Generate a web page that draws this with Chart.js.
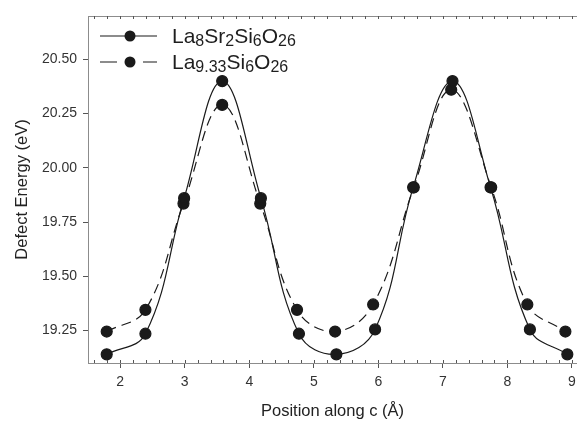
<!DOCTYPE html>
<html>
<head>
<meta charset="utf-8">
<title>Defect Energy</title>
<script src="https://cdn.jsdelivr.net/npm/chart.js@4/dist/chart.umd.min.js"></script>
<style>
  html, body { margin: 0; padding: 0; background: #fff; overflow: hidden; }
  canvas { display: block; }
</style>
</head>
<body>
<canvas id="chart" width="577" height="421"></canvas>
<script>
// ============================
// DATOS
// ============================

// La8Sr2Si6O26 (línea continua)
const xSr = [1.79, 2.39, 2.99, 3.58, 4.18, 4.77, 5.35, 5.95, 6.54, 7.15, 7.74, 8.35, 8.93];
const eSr = [19.14, 19.235, 19.86, 20.40, 19.86, 19.235, 19.14, 19.255, 19.91, 20.40, 19.91, 19.255, 19.14];

// La9.33Si6O26 (línea discontinua)
const xLa = [1.79, 2.39, 2.98, 3.58, 4.17, 4.74, 5.33, 5.92, 6.55, 7.13, 7.75, 8.31, 8.90];
const eLa = [19.245, 19.345, 19.835, 20.29, 19.835, 19.345, 19.245, 19.37, 19.91, 20.36, 19.91, 19.37, 19.245];

// etiquetas de ejes
const xTicks = [2, 3, 4, 5, 6, 7, 8, 9];
const yTicks = [19.25, 19.50, 19.75, 20.00, 20.25, 20.50];

// partes de la leyenda: normal, subíndice, normal, subíndice...
const legendSr = ['La', '8', 'Sr', '2', 'Si', '6', 'O', '26'];
const legendLa = ['La', '9.33', 'Si', '6', 'O', '26'];

const FONT = '"Liberation Sans", Arial, sans-serif';
const INK = '#1a1a1a';
const FRAME = '#8c8c8c';

const toPoints = (xs, ys) => xs.map((x, i) => ({ x: x, y: ys[i] }));

// ============================
// PLUGINS
// ============================

// marco superior + ticks menores
const framePlugin = {
    id: 'frame',
    afterDraw(chart) {
        const { ctx, chartArea, scales } = chart;
        const xs = scales.x;
        ctx.save();
        ctx.strokeStyle = FRAME;
        ctx.lineWidth = 1;

        // borde superior
        ctx.beginPath();
        ctx.moveTo(chartArea.left, chartArea.top + 0.5);
        ctx.lineTo(chartArea.right, chartArea.top + 0.5);
        ctx.stroke();

        // ticks menores cada 0.2
        ctx.strokeStyle = '#555';
        for (let v = 1.6; v <= xs.max + 1e-9; v += 0.2) {
            const px = Math.round(xs.getPixelForValue(v)) + 0.5;
            ctx.beginPath();
            ctx.moveTo(px, chartArea.bottom);
            ctx.lineTo(px, chartArea.bottom - 3);
            ctx.moveTo(px, chartArea.top);
            ctx.lineTo(px, chartArea.top + 3);
            ctx.stroke();
        }
        ctx.restore();
    }
};

// leyenda con subíndices
function drawFormula(ctx, parts, x, y) {
    let cx = x;
    parts.forEach((p, i) => {
        const sub = i % 2 === 1;
        ctx.font = (sub ? '16px ' : '21px ') + FONT;
        ctx.fillText(p, cx, sub ? y + 3 : y);
        cx += ctx.measureText(p).width;
    });
}

const legendPlugin = {
    id: 'formulaLegend',
    afterDraw(chart) {
        const { ctx } = chart;
        const rows = [
            { parts: legendSr, y: 36, dashed: false },
            { parts: legendLa, y: 62, dashed: true }
        ];
        ctx.save();
        rows.forEach(r => {
            ctx.strokeStyle = INK;
            ctx.lineWidth = 1.2;
            ctx.beginPath();
            if (r.dashed) {
                ctx.moveTo(100, r.y); ctx.lineTo(117, r.y);
                ctx.moveTo(143, r.y); ctx.lineTo(157, r.y);
            } else {
                ctx.moveTo(100, r.y); ctx.lineTo(157, r.y);
            }
            ctx.stroke();

            ctx.fillStyle = INK;
            ctx.beginPath();
            ctx.arc(130, r.y, 5.5, 0, Math.PI * 2);
            ctx.fill();

            ctx.fillStyle = '#1e1e1e';
            ctx.textBaseline = 'alphabetic';
            drawFormula(ctx, r.parts, 172, r.y + 7);
        });
        ctx.restore();
    }
};

// ============================
// GRAFICO
// ============================

const ctx = document.getElementById('chart').getContext('2d');

const chart = new Chart(ctx, {
    type: 'line',
    data: {
        datasets: [
            {
                label: 'La8Sr2Si6O26',
                data: toPoints(xSr, eSr),
                borderColor: INK,
                borderWidth: 1.2,
                backgroundColor: INK,
                pointBackgroundColor: INK,
                pointBorderColor: INK,
                pointRadius: 5.5,
                tension: 0.4,
                fill: false
            },
            {
                label: 'La9.33Si6O26',
                data: toPoints(xLa, eLa),
                borderColor: INK,
                borderWidth: 1.2,
                borderDash: [10, 6],
                backgroundColor: INK,
                pointBackgroundColor: INK,
                pointBorderColor: INK,
                pointRadius: 5.5,
                tension: 0.4,
                fill: false
            }
        ]
    },
    options: {
        responsive: false,
        animation: false,
        layout: { autoPadding: false, padding: { top: 16, right: 0, left: 0, bottom: 0 } },
        plugins: {
            legend: { display: false },
            tooltip: { enabled: false }
        },
        scales: {
            x: {
                type: 'linear',
                min: 1.5,
                max: 9.08,
                afterBuildTicks: s => { s.ticks = xTicks.map(v => ({ value: v })); },
                afterFit: s => { s.height = 58; s.paddingRight = 0; s.paddingLeft = 0; },
                grid: {
                    drawOnChartArea: false,
                    drawTicks: true,
                    tickLength: 5,
                    color: '#555'
                },
                border: { color: FRAME, width: 1 },
                ticks: {
                    color: '#333',
                    padding: 6,
                    maxRotation: 0,
                    font: { family: FONT, size: 14 },
                    callback: v => String(v)
                },
                title: {
                    display: true,
                    text: 'Position along c (Å)',
                    color: '#222',
                    font: { family: FONT, size: 16.5 },
                    padding: { top: 6, bottom: 0 }
                }
            },
            y: {
                type: 'linear',
                min: 19.1,
                max: 20.7,
                afterBuildTicks: s => { s.ticks = yTicks.map(v => ({ value: v })); },
                afterFit: s => { s.width = 88; s.paddingTop = 0; s.paddingBottom = 0; },
                grid: {
                    drawOnChartArea: false,
                    drawTicks: true,
                    tickLength: 5,
                    color: '#555'
                },
                border: { color: FRAME, width: 1 },
                ticks: {
                    color: '#333',
                    padding: 6,
                    font: { family: FONT, size: 14 },
                    callback: v => Number(v).toFixed(2)
                },
                title: {
                    display: true,
                    text: 'Defect Energy (eV)',
                    color: '#222',
                    font: { family: FONT, size: 16.5 },
                    padding: { top: 13, bottom: 4 }
                }
            }
        }
    },
    plugins: [framePlugin, legendPlugin]
});
</script>
</body>
</html>
